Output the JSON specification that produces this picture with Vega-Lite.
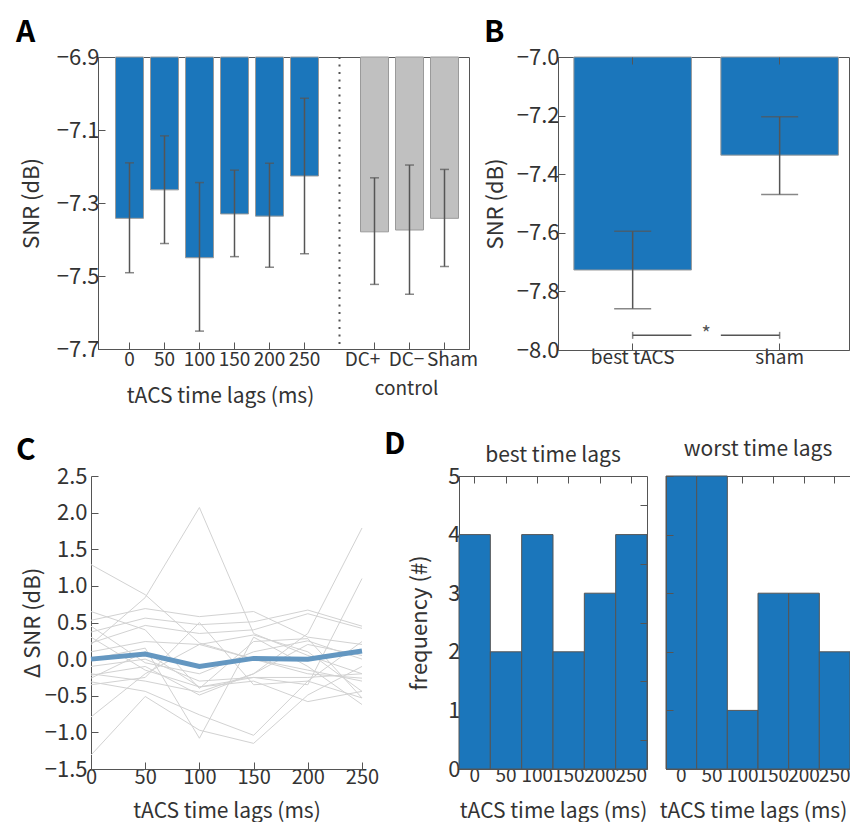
{
  "$schema": "https://vega.github.io/schema/vega-lite/v6.json",
  "background": "white",
  "padding": {"left": 15, "top": 17, "right": 0, "bottom": 0},
  "spacing": 23,
  "config": {
    "font": "Noto Sans CJK SC, Noto Sans, sans-serif",
    "view": {"stroke": "#555", "strokeWidth": 1},
    "axis": {"grid": false, "domainColor": "#555", "domainWidth": 1, "tickColor": "#555", "tickWidth": 1, "tickSize": -7, "labelColor": "#333", "titleColor": "#333", "labelFontSize": 22, "titleFontSize": 22, "titleFontWeight": "normal", "labelPadding": 6, "labelOverlap": false, "labelFlush": false},
    "axisX": {"labelFontSize": 19, "titleFontSize": 21},
    "title": {"fontWeight": "normal", "color": "#333", "fontSize": 21, "baseline": "alphabetic", "offset": 16}
  },
  "vconcat": [
    {
      "bounds": "flush",
      "spacing": 3,
      "hconcat": [
        {"width": 4, "height": 292, "view": {"stroke": null}, "data": {"values": []}, "mark": "point"},
        {
          "width": 371,
          "height": 292,
          "title": {"text": "A", "anchor": "start", "frame": "group", "dx": -82, "offset": -2, "fontSize": 30, "fontWeight": "bold", "color": "#000"},
          "data": {"values": [
            {"cond": "0", "group": "tACS", "snr": -7.342, "lo": -7.491, "hi": -7.190},
            {"cond": "50", "group": "tACS", "snr": -7.264, "lo": -7.411, "hi": -7.116},
            {"cond": "100", "group": "tACS", "snr": -7.450, "lo": -7.651, "hi": -7.244},
            {"cond": "150", "group": "tACS", "snr": -7.330, "lo": -7.447, "hi": -7.210},
            {"cond": "200", "group": "tACS", "snr": -7.336, "lo": -7.476, "hi": -7.191},
            {"cond": "250", "group": "tACS", "snr": -7.226, "lo": -7.439, "hi": -7.013},
            {"cond": "DC+", "group": "control", "snr": -7.379, "lo": -7.523, "hi": -7.231},
            {"cond": "DC−", "group": "control", "snr": -7.374, "lo": -7.550, "hi": -7.196},
            {"cond": "Sham", "group": "control", "snr": -7.342, "lo": -7.474, "hi": -7.208}
          ]},
          "encoding": {
            "x": {
              "field": "cond", "type": "nominal", "title": "tACS time lags (ms)",
              "scale": {"domain": ["0", "50", "100", "150", "200", "250", "gap", "DC+", "DC−", "Sham"], "paddingInner": 0.2, "paddingOuter": 0.4, "align": 0.625},
              "axis": {
                "values": ["0", "50", "100", "150", "200", "250", "DC+", "DC−", "Sham"],
                "bandPosition": 0.5,
                "labelAngle": 0,
                "labelFontSize": 19,
                "labelExpr": "datum.value === 'DC−' ? ['DC−', 'control'] : datum.value",
                "labelLineHeight": 29,
                "labelOffset": {"condition": [{"test": "datum.value === 'DC+'", "value": -12}, {"test": "datum.value === 'DC−'", "value": -3}, {"test": "datum.value === 'Sham'", "value": 8}], "value": 0},
                "titleX": 122, "titleY": 53, "titleBaseline": "alphabetic", "labelPadding": 8
              }
            }
          },
          "layer": [
            {
              "mark": {"type": "bar", "stroke": "#9a9a9a", "strokeWidth": 1},
              "encoding": {
                "y": {"field": "snr", "type": "quantitative", "title": "SNR (dB)", "scale": {"domain": [-7.7, -6.9], "nice": false, "zero": false}, "axis": {"values": [-6.9, -7.1, -7.3, -7.5, -7.7], "format": ".1f", "titleX": -55}},
                "y2": {"datum": -6.9},
                "color": {"field": "group", "type": "nominal", "scale": {"domain": ["tACS", "control"], "range": ["#1b76bb", "#c0c0c0"]}, "legend": null}
              }
            },
            {
              "mark": {"type": "rule", "color": "#555", "strokeWidth": 1.5},
              "encoding": {"y": {"field": "lo", "type": "quantitative", "title": "SNR (dB)"}, "y2": {"field": "hi"}}
            },
            {
              "mark": {"type": "tick", "color": "#555", "size": 9, "thickness": 1.5},
              "encoding": {"y": {"field": "lo", "type": "quantitative", "title": "SNR (dB)"}}
            },
            {
              "mark": {"type": "tick", "color": "#555", "size": 9, "thickness": 1.5},
              "encoding": {"y": {"field": "hi", "type": "quantitative", "title": "SNR (dB)"}}
            },
            {
              "data": {"values": [{"cond": "gap"}]},
              "mark": {"type": "rule", "color": "#555", "strokeWidth": 2, "strokeDash": [2, 5.5]},
              "encoding": {}
            }
          ]
        },
        {"width": 83, "height": 292, "view": {"stroke": null}, "data": {"values": []}, "mark": "point"},
        {
          "width": 291,
          "height": 293,
          "title": {"text": "B", "anchor": "start", "frame": "group", "dx": -74, "offset": -2, "fontSize": 30, "fontWeight": "bold", "color": "#000"},
          "encoding": {
            "x": {"field": "cond", "type": "nominal", "title": null, "scale": {"domain": ["best tACS", "sham"], "paddingInner": 0.2, "paddingOuter": 0.09, "align": 0.6}, "axis": {"labelAngle": 0, "labelPadding": 5, "bandPosition": 0.5}}
          },
          "resolve": {"axis": {"x": "independent"}},
          "layer": [
            {
              "data": {"values": [
                {"cond": "best tACS", "snr": -7.727, "lo": -7.859, "hi": -7.595},
                {"cond": "sham", "snr": -7.335, "lo": -7.469, "hi": -7.204}
              ]},
              "layer": [
                {
                  "mark": {"type": "bar", "color": "#1b76bb", "stroke": "#9a9a9a", "strokeWidth": 1},
                  "encoding": {
                    "y": {"field": "snr", "type": "quantitative", "title": "SNR (dB)", "scale": {"domain": [-8, -7], "nice": false, "zero": false}, "axis": {"values": [-7, -7.2, -7.4, -7.6, -7.8, -8], "format": ".1f", "titleX": -51}},
                    "y2": {"datum": -7}
                  }
                },
                {
                  "mark": {"type": "rule", "color": "#555", "strokeWidth": 1.5},
                  "encoding": {"y": {"field": "lo", "type": "quantitative", "title": "SNR (dB)"}, "y2": {"field": "hi"}}
                },
                {
                  "mark": {"type": "tick", "color": "#555", "size": 37, "thickness": 1.5},
                  "encoding": {"y": {"field": "lo", "type": "quantitative", "title": "SNR (dB)"}}
                },
                {
                  "mark": {"type": "tick", "color": "#555", "size": 37, "thickness": 1.5},
                  "encoding": {"y": {"field": "hi", "type": "quantitative", "title": "SNR (dB)"}}
                },
                {
                  "mark": {"type": "bar", "opacity": 0},
                  "encoding": {
                    "x": {"field": "cond", "type": "nominal", "title": null, "axis": {"orient": "top", "labels": false, "domain": false, "bandPosition": 0.5, "zindex": 1}},
                    "y": {"field": "snr", "type": "quantitative", "title": "SNR (dB)"},
                    "y2": {"datum": -7}
                  }
                }
              ]
            },
            {
              "data": {"values": [{"from": "best tACS", "to": "sham", "y": -7.95, "sig": "*"}]},
              "layer": [
                {
                  "mark": {"type": "rule", "color": "#555", "strokeWidth": 1.5},
                  "encoding": {
                    "x": {"field": "from", "type": "nominal", "bandPosition": 0.5, "title": null},
                    "x2": {"field": "from", "bandPosition": 1},
                    "y": {"field": "y", "type": "quantitative", "title": "SNR (dB)"}
                  }
                },
                {
                  "mark": {"type": "rule", "color": "#555", "strokeWidth": 1.5},
                  "encoding": {
                    "x": {"field": "to", "type": "nominal", "bandPosition": 0, "title": null},
                    "x2": {"field": "to", "bandPosition": 0.5},
                    "y": {"field": "y", "type": "quantitative", "title": "SNR (dB)"}
                  }
                },
                {
                  "mark": {"type": "tick", "orient": "vertical", "color": "#555", "size": 7, "thickness": 1.5},
                  "encoding": {
                    "x": {"field": "from", "type": "nominal", "title": null},
                    "y": {"field": "y", "type": "quantitative", "title": "SNR (dB)"}
                  }
                },
                {
                  "mark": {"type": "tick", "orient": "vertical", "color": "#555", "size": 7, "thickness": 1.5},
                  "encoding": {
                    "x": {"field": "to", "type": "nominal", "title": null},
                    "y": {"field": "y", "type": "quantitative", "title": "SNR (dB)"}
                  }
                },
                {
                  "mark": {"type": "text", "fontSize": 20, "color": "#555", "baseline": "middle"},
                  "encoding": {
                    "x": {"field": "from", "type": "nominal", "bandPosition": 1.125, "title": null},
                    "y": {"field": "y", "type": "quantitative", "title": "SNR (dB)"},
                    "text": {"field": "sig"}
                  }
                }
              ]
            }
          ]
        }
      ]
    },
    {
      "bounds": "flush",
      "spacing": 19,
      "hconcat": [
        {
          "width": 271,
          "height": 293,
          "title": {"text": "C", "anchor": "start", "frame": "group", "dx": -75, "offset": -1, "fontSize": 30, "fontWeight": "bold", "color": "#000"},
          "view": {"stroke": null},
          "layer": [
            {
              "data": {"values": [
                {"s": 1, "t": 0, "d": 0.20}, {"s": 1, "t": 50, "d": 0.84}, {"s": 1, "t": 100, "d": 2.07}, {"s": 1, "t": 150, "d": 0.35}, {"s": 1, "t": 200, "d": 0.05}, {"s": 1, "t": 250, "d": -0.20},
                {"s": 2, "t": 0, "d": 1.29}, {"s": 2, "t": 50, "d": 0.88}, {"s": 2, "t": 100, "d": 0.22}, {"s": 2, "t": 150, "d": 0.00}, {"s": 2, "t": 200, "d": -0.15}, {"s": 2, "t": 250, "d": -0.30},
                {"s": 3, "t": 0, "d": 0.65}, {"s": 3, "t": 50, "d": 0.40}, {"s": 3, "t": 100, "d": -0.40}, {"s": 3, "t": 150, "d": 0.24}, {"s": 3, "t": 200, "d": 0.28}, {"s": 3, "t": 250, "d": -0.53},
                {"s": 4, "t": 0, "d": 0.53}, {"s": 4, "t": 50, "d": 0.69}, {"s": 4, "t": 100, "d": 0.58}, {"s": 4, "t": 150, "d": 0.65}, {"s": 4, "t": 200, "d": 0.30}, {"s": 4, "t": 250, "d": 0.20},
                {"s": 5, "t": 0, "d": 0.37}, {"s": 5, "t": 50, "d": 0.56}, {"s": 5, "t": 100, "d": 0.47}, {"s": 5, "t": 150, "d": 0.51}, {"s": 5, "t": 200, "d": 0.67}, {"s": 5, "t": 250, "d": 0.45},
                {"s": 6, "t": 0, "d": 0.22}, {"s": 6, "t": 50, "d": 0.46}, {"s": 6, "t": 100, "d": 0.35}, {"s": 6, "t": 150, "d": 0.40}, {"s": 6, "t": 200, "d": 0.62}, {"s": 6, "t": 250, "d": 0.42},
                {"s": 7, "t": 0, "d": 0.10}, {"s": 7, "t": 50, "d": 0.24}, {"s": 7, "t": 100, "d": 0.20}, {"s": 7, "t": 150, "d": 0.33}, {"s": 7, "t": 200, "d": 0.10}, {"s": 7, "t": 250, "d": -0.44},
                {"s": 8, "t": 0, "d": -0.22}, {"s": 8, "t": 50, "d": -0.10}, {"s": 8, "t": 100, "d": -0.49}, {"s": 8, "t": 150, "d": -0.20}, {"s": 8, "t": 200, "d": 0.35}, {"s": 8, "t": 250, "d": 1.79},
                {"s": 9, "t": 0, "d": -0.26}, {"s": 9, "t": 50, "d": 0.10}, {"s": 9, "t": 100, "d": -0.38}, {"s": 9, "t": 150, "d": -0.25}, {"s": 9, "t": 200, "d": -0.35}, {"s": 9, "t": 250, "d": 1.10},
                {"s": 10, "t": 0, "d": -0.31}, {"s": 10, "t": 50, "d": -0.44}, {"s": 10, "t": 100, "d": -0.76}, {"s": 10, "t": 150, "d": -1.04}, {"s": 10, "t": 200, "d": -0.30}, {"s": 10, "t": 250, "d": 0.24},
                {"s": 11, "t": 0, "d": -0.79}, {"s": 11, "t": 50, "d": -0.20}, {"s": 11, "t": 100, "d": 0.20}, {"s": 11, "t": 150, "d": 0.00}, {"s": 11, "t": 200, "d": -0.20}, {"s": 11, "t": 250, "d": -0.26},
                {"s": 12, "t": 0, "d": -1.31}, {"s": 12, "t": 50, "d": -0.51}, {"s": 12, "t": 100, "d": -0.97}, {"s": 12, "t": 150, "d": -1.15}, {"s": 12, "t": 200, "d": -0.49}, {"s": 12, "t": 250, "d": -0.10},
                {"s": 13, "t": 0, "d": 0.00}, {"s": 13, "t": 50, "d": 0.15}, {"s": 13, "t": 100, "d": -1.08}, {"s": 13, "t": 150, "d": 0.30}, {"s": 13, "t": 200, "d": -0.10}, {"s": 13, "t": 250, "d": -0.62},
                {"s": 14, "t": 0, "d": -0.10}, {"s": 14, "t": 50, "d": 0.00}, {"s": 14, "t": 100, "d": -0.30}, {"s": 14, "t": 150, "d": -0.25}, {"s": 14, "t": 200, "d": -0.25}, {"s": 14, "t": 250, "d": -0.20},
                {"s": 15, "t": 0, "d": 0.30}, {"s": 15, "t": 50, "d": -0.15}, {"s": 15, "t": 100, "d": -0.38}, {"s": 15, "t": 150, "d": -0.30}, {"s": 15, "t": 200, "d": -0.58}, {"s": 15, "t": 250, "d": -0.44},
                {"s": 16, "t": 0, "d": -0.20}, {"s": 16, "t": 50, "d": -0.30}, {"s": 16, "t": 100, "d": -0.45}, {"s": 16, "t": 150, "d": -0.20}, {"s": 16, "t": 200, "d": 0.20}, {"s": 16, "t": 250, "d": 0.05},
                {"s": 17, "t": 0, "d": 0.45}, {"s": 17, "t": 50, "d": -0.05}, {"s": 17, "t": 100, "d": -0.20}, {"s": 17, "t": 150, "d": 0.10}, {"s": 17, "t": 200, "d": 0.25}, {"s": 17, "t": 250, "d": 0.00},
                {"s": 18, "t": 0, "d": -0.35}, {"s": 18, "t": 50, "d": -0.25}, {"s": 18, "t": 100, "d": 0.50}, {"s": 18, "t": 150, "d": -0.35}, {"s": 18, "t": 200, "d": -0.30}, {"s": 18, "t": 250, "d": -0.53}
              ]},
              "mark": {"type": "line", "color": "#d2d2d2", "strokeWidth": 1},
              "encoding": {
                "x": {"field": "t", "type": "quantitative", "title": "tACS time lags (ms)", "scale": {"domain": [0, 250], "nice": false}, "axis": {"values": [0, 50, 100, 150, 200, 250], "labelFontSize": 20, "labelPadding": 5, "titleY": 48, "titleBaseline": "alphabetic"}},
                "y": {"field": "d", "type": "quantitative", "title": "Δ SNR (dB)", "scale": {"domain": [-1.5, 2.5], "nice": false}, "axis": {"values": [-1.5, -1, -0.5, 0, 0.5, 1, 1.5, 2, 2.5], "labelExpr": "format(datum.value, '.1f')", "tickCount": 9, "titleX": -47, "labelPadding": 11}},
                "detail": {"field": "s", "type": "nominal"}
              }
            },
            {
              "data": {"values": [
                {"t": 0, "d": 0.00}, {"t": 50, "d": 0.07}, {"t": 100, "d": -0.10}, {"t": 150, "d": 0.01}, {"t": 200, "d": 0.00}, {"t": 250, "d": 0.11}
              ]},
              "mark": {"type": "line", "color": "#6497c1", "strokeWidth": 5},
              "encoding": {
                "x": {"field": "t", "type": "quantitative", "title": "tACS time lags (ms)"},
                "y": {"field": "d", "type": "quantitative", "title": "Δ SNR (dB)"}
              }
            }
          ]
        },
        {
          "width": 58.7,
          "height": 293,
          "title": {"text": "D", "anchor": "start", "frame": "group", "dx": 3, "offset": 16, "fontSize": 30, "fontWeight": "bold", "color": "#000"},
          "view": {"stroke": null},
          "data": {"values": []},
          "mark": "point"
        },
        {
          "width": 188,
          "height": 293,
          "title": {"text": "best time lags", "frame": "group", "offset": -1},
          "data": {"values": [
            {"lag": "0", "n": 4}, {"lag": "50", "n": 2}, {"lag": "100", "n": 4}, {"lag": "150", "n": 2}, {"lag": "200", "n": 3}, {"lag": "250", "n": 4}
          ]},
          "encoding": {
            "x": {"field": "lag", "type": "ordinal", "title": "tACS time lags (ms)", "scale": {"domain": ["0", "50", "100", "150", "200", "250"], "paddingInner": 0, "paddingOuter": 0}, "axis": {"labelAngle": 0, "labelFontSize": 19, "labelPadding": 4, "bandPosition": 0.5, "titleY": 48, "titleBaseline": "alphabetic"}},
            "y": {"field": "n", "type": "quantitative", "title": "frequency (#)", "scale": {"domain": [0, 5], "nice": false}, "axis": {"values": [0, 1, 2, 3, 4, 5], "titleX": -28}}
          },
          "resolve": {"axis": {"x": "independent", "y": "independent"}},
          "layer": [
            {"mark": {"type": "bar", "color": "#1b76bb", "stroke": "#555", "strokeWidth": 1}},
            {
              "mark": {"type": "bar", "opacity": 0},
              "encoding": {
                "x": {"field": "lag", "type": "ordinal", "title": null, "axis": {"orient": "top", "labels": false, "domain": false, "bandPosition": 0.5}},
                "y": {"field": "n", "type": "quantitative", "title": null, "axis": {"orient": "right", "labels": false, "domain": false, "zindex": 1, "values": [0.5, 1.5, 2.5, 3.5, 4.5]}}
              }
            }
          ]
        },
        {
          "width": 184,
          "height": 293,
          "title": {"text": "worst time lags", "frame": "group", "offset": 16},
          "data": {"values": [
            {"lag": "0", "n": 5}, {"lag": "50", "n": 5}, {"lag": "100", "n": 1}, {"lag": "150", "n": 3}, {"lag": "200", "n": 3}, {"lag": "250", "n": 2}
          ]},
          "encoding": {
            "x": {"field": "lag", "type": "ordinal", "title": "tACS time lags (ms)", "scale": {"domain": ["0", "50", "100", "150", "200", "250"], "paddingInner": 0, "paddingOuter": 0}, "axis": {"labelAngle": 0, "labelFontSize": 19, "labelPadding": 4, "bandPosition": 0.5, "titleX": 87, "titleY": 48, "titleBaseline": "alphabetic"}},
            "y": {"field": "n", "type": "quantitative", "title": null, "scale": {"domain": [0, 5], "nice": false}, "axis": {"values": [0, 1, 2, 3, 4, 5], "labels": false, "zindex": 1}}
          },
          "resolve": {"axis": {"x": "independent"}},
          "layer": [
            {"mark": {"type": "bar", "color": "#1b76bb", "stroke": "#555", "strokeWidth": 1}},
            {
              "mark": {"type": "bar", "opacity": 0},
              "encoding": {
                "x": {"field": "lag", "type": "ordinal", "title": null, "axis": {"orient": "top", "labels": false, "domain": false, "bandPosition": 0.5}}
              }
            }
          ]
        }
      ]
    }
  ]
}
